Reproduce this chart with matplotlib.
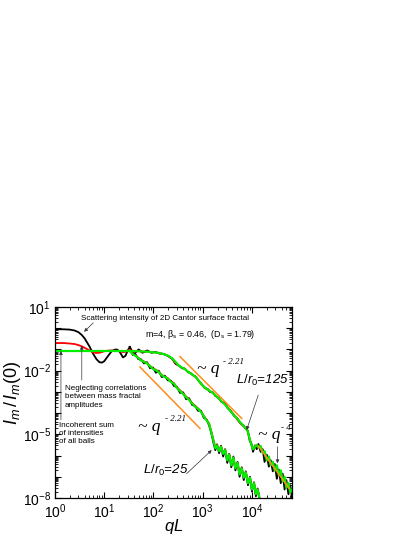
import math
import matplotlib
matplotlib.use("Agg")
import matplotlib.pyplot as plt
from matplotlib.ticker import LogLocator, FuncFormatter, NullFormatter

plt.rcParams['font.family'] = ['Liberation Sans', 'DejaVu Sans']
plt.rcParams['mathtext.fontset'] = 'custom'
plt.rcParams['mathtext.rm'] = 'Liberation Sans'
plt.rcParams['mathtext.it'] = 'Liberation Sans:italic'

# low-q part, common to both L/r0 values
q_low = [1, 1.5, 2, 2.5, 3, 3.5, 4, 5, 6, 7, 8, 9, 10, 12, 14, 16, 18, 20, 22, 24, 27, 30, 33]
black_low = [0.9, 0.89, 0.86, 0.78, 0.65, 0.48, 0.33, 0.14, 0.06, 0.034, 0.025, 0.024, 0.028,
             0.05, 0.08, 0.097, 0.1, 0.085, 0.06, 0.042, 0.05, 0.09, 0.13]
red_low = [0.2, 0.2, 0.19, 0.18, 0.16, 0.14, 0.12, 0.09, 0.072, 0.068, 0.07, 0.076, 0.082,
           0.088, 0.09, 0.088, 0.086, 0.084, 0.08, 0.074, 0.078, 0.09, 0.095]
green_low = [0.084, 0.084, 0.084, 0.084, 0.084, 0.084, 0.084, 0.084, 0.084, 0.084, 0.084, 0.084,
             0.084, 0.084, 0.084, 0.084, 0.084, 0.084, 0.084, 0.084, 0.084, 0.084, 0.084]

# L/r0 = 125
q_125 = [33, 40, 50, 60, 75, 90, 110, 130, 160, 200, 240, 280, 330, 380, 430, 500, 560, 640, 720,
         820, 950, 1100, 1250, 1400, 1600, 1800, 2100, 2400, 2800, 3200, 3700, 4300, 5000, 5800,
         6600, 7400, 8200, 9000, 9800, 10500, 11500, 12500, 13500, 15000, 16500, 18000, 20000,
         22000, 24000, 26500, 29000, 32000, 35000, 38500, 42000, 46000, 50000, 55000, 60000, 65000]
green_125 = [0.084, 0.083, 0.082, 0.08, 0.078, 0.075, 0.072, 0.068, 0.06, 0.05, 0.038, 0.026, 0.017,
             0.014, 0.012, 0.009, 0.0075, 0.0062, 0.005, 0.0035, 0.0022, 0.0016, 0.0013, 0.0011,
             0.0009, 0.0007, 0.0005, 0.00036, 0.00026, 0.00018, 0.00012, 8e-5, 5.5e-5, 3.6e-5,
             2.6e-5, 2.0e-5, 1.4e-5, 6e-6, 3e-6, 2e-6, 2.6e-6, 3.2e-6, 2.4e-6, 2.8e-6, 1.3e-6,
             1.6e-6, 6e-7, 9e-7, 3.5e-7, 5e-7, 2e-7, 3.5e-7, 1.2e-7, 2e-7, 6e-8, 1e-7, 3e-8, 5e-8,
             1.8e-8, 2.5e-8]
black_125 = [0.13, 0.06, 0.1, 0.07, 0.09, 0.07, 0.076, 0.065, 0.062, 0.048, 0.036, 0.021, 0.017,
             0.013, 0.0125, 0.0085, 0.0078, 0.006, 0.0052, 0.0034, 0.0023, 0.0015, 0.0014, 0.001,
             0.00095, 0.00065, 0.00052, 0.00034, 0.0003, 0.00017, 0.00013, 7.5e-5, 5.8e-5, 3.4e-5,
             2.7e-5, 1.9e-5, 1.5e-5, 5e-6, 3.5e-6, 1.5e-6, 3e-6, 2e-6, 3.5e-6, 1.5e-6, 2e-6,
             5e-7, 1.1e-6, 3e-7, 6e-7, 1.8e-7, 4e-7, 8e-8, 2.2e-7, 5e-8, 1.4e-7, 2.5e-8, 7e-8,
             1.5e-8, 4e-8, 1e-8]
red_125 = [0.095, 0.08, 0.084, 0.078, 0.08, 0.074, 0.073, 0.066, 0.061, 0.049, 0.036, 0.023, 0.017,
           0.0135, 0.0125, 0.0088, 0.0078, 0.006, 0.0052, 0.0034, 0.0023, 0.0016, 0.0013, 0.00105,
           0.00092, 0.0007, 0.00051, 0.00035, 0.00028, 0.00019, 0.00012, 8.5e-5, 5e-5, 3.3e-5,
           2.5e-5, 2e-5, 1.4e-5, 6e-6, 3e-6, 2e-6, 2.8e-6, 3e-6, 2.6e-6, 2.6e-6, 1.4e-6,
           1.5e-6, 6.5e-7, 8.5e-7, 3.8e-7, 4.8e-7, 2.1e-7, 3.2e-7, 1.3e-7, 1.9e-7, 6.5e-8, 9e-8,
           3.2e-8, 4.5e-8, 2e-8, 2.3e-8]

# L/r0 = 25
q_25 = [33, 38, 43, 49, 56, 64, 74, 85, 98, 112, 128, 147, 170, 195, 225, 260, 300, 345, 400, 460,
        530, 610, 700, 800, 920, 1050, 1200, 1350, 1500, 1650, 1800, 1950, 2150, 2350, 2600, 2850,
        3150, 3450, 3800, 4200, 4600, 5100, 5600, 6200, 6800, 7500, 8300, 9100, 10000, 11000,
        12000, 13000, 14500]
green_25 = [0.084, 0.06, 0.05, 0.04, 0.03, 0.026, 0.022, 0.016, 0.012, 0.0105, 0.0085, 0.006,
            0.005, 0.0042, 0.003, 0.0024, 0.0015, 0.0011, 0.0008, 0.00055, 0.00042, 0.00028, 0.0002,
            0.00016, 0.000115, 7e-5, 4.5e-5, 3e-5, 1.2e-5, 5e-6, 2.2e-6, 3e-6, 1.6e-6, 2.6e-6,
            1.2e-6, 1.8e-6, 6e-7, 1.1e-6, 3.5e-7, 8e-7, 2.5e-7, 4.5e-7, 1.3e-7, 2.5e-7, 9e-8,
            1.6e-7, 5e-8, 9e-8, 2.5e-8, 5e-8, 1.5e-8, 2.5e-8, 8e-9]
black_25 = [0.13, 0.055, 0.06, 0.035, 0.034, 0.022, 0.025, 0.013, 0.014, 0.008, 0.01, 0.005,
            0.0058, 0.0035, 0.0034, 0.0019, 0.0017, 0.0009, 0.00095, 0.00045, 0.0005, 0.00024,
            0.00022, 0.00013, 0.00013, 6e-5, 5e-5, 2.6e-5, 1.1e-5, 4e-6, 1.8e-6, 3.4e-6, 1.3e-6,
            2.9e-6, 9e-7, 2e-6, 4.5e-7, 1.2e-6, 2.8e-7, 9e-7, 2e-7, 5e-7, 1e-7, 2.8e-7, 7e-8,
            1.8e-7, 4e-8, 1e-7, 2e-8, 5.5e-8, 1.2e-8, 2.8e-8, 7e-9]
red_25 = [0.095, 0.062, 0.052, 0.041, 0.031, 0.027, 0.023, 0.017, 0.0125, 0.011, 0.009, 0.0062,
          0.0053, 0.0044, 0.0032, 0.0026, 0.0016, 0.0012, 0.00085, 0.0006, 0.00045, 0.0003,
          0.00022, 0.00017, 0.00012, 7.5e-5, 4.8e-5, 3.2e-5, 1.3e-5, 5.5e-6, 2.4e-6, 3.2e-6,
          1.7e-6, 2.7e-6, 1.3e-6, 1.9e-6, 6.5e-7, 1.15e-6, 3.8e-7, 8.2e-7, 2.6e-7, 4.6e-7,
          1.4e-7, 2.6e-7, 9.5e-8, 1.65e-7, 5.2e-8, 9.2e-8, 2.6e-8, 5.2e-8, 1.6e-8, 2.6e-8, 8.5e-9]

# power-law guide lines (end points)
guide_upper_q = [345, 6200]
guide_upper_I = [0.046, 5.6e-5]
guide_lower_q = [53, 880]
guide_lower_I = [0.015, 1.9e-5]
guide_q4_q = [13500, 57000]
guide_q4_I = [2.8e-6, 2.8e-8]

fig = plt.figure(figsize=(4.15, 5.37), dpi=100)
ax = fig.add_axes([55 / 415, 1 - 498 / 537, 237 / 415, 191 / 537])

BLACK, RED, GREEN, ORANGE = '#000000', '#ff0000', '#00ee00', '#ff8c1a'

for q, I in [(q_low, black_low), (q_125, black_125), (q_25, black_25)]:
    ax.plot(q, I, color=BLACK, lw=1.3)
for q, I in [(q_low, red_low), (q_125, red_125), (q_25, red_25)]:
    ax.plot(q, I, color=RED, lw=1.3)
for q, I in [(q_low, green_low), (q_125, green_125), (q_25, green_25)]:
    ax.plot(q, I, color=GREEN, lw=1.6)

for q, I in [(guide_upper_q, guide_upper_I), (guide_lower_q, guide_lower_I), (guide_q4_q, guide_q4_I)]:
    ax.plot(q, I, color=ORANGE, lw=1.1)

ax.set_xscale('log')
ax.set_yscale('log')
ax.set_xlim(1, 6.5e4)
ax.set_ylim(1e-8, 10)

ax.xaxis.set_major_locator(LogLocator(base=10, numticks=20))
ax.xaxis.set_minor_locator(LogLocator(base=10, subs=range(2, 10), numticks=20))
ax.yaxis.set_major_locator(LogLocator(base=10, numticks=20))
ax.yaxis.set_minor_locator(LogLocator(base=10, subs=range(2, 10), numticks=20))
ax.xaxis.set_minor_formatter(NullFormatter())
ax.yaxis.set_minor_formatter(NullFormatter())


def xfmt(v, pos):
    return r'$\mathregular{10^{%d}}$' % round(math.log10(v))


def yfmt(v, pos):
    e = round(math.log10(v))
    if e % 3 != 1:
        return ''
    return r'$\mathregular{10^{%d}}$' % e


ax.xaxis.set_major_formatter(FuncFormatter(xfmt))
ax.yaxis.set_major_formatter(FuncFormatter(yfmt))
ax.tick_params(which='both', direction='in', top=True, right=True, labelsize=10, pad=3)
ax.tick_params(which='major', length=4, width=0.8)
ax.tick_params(which='minor', length=2, width=0.6)
for s in ax.spines.values():
    s.set_linewidth(0.9)

ax.set_xlabel(r'$qL$', fontsize=12, labelpad=-3)
ax.set_ylabel(r'$I_m\,/\,I_m(0)$', fontsize=13)
ax.yaxis.set_label_coords(-0.135, 0.55)

small = 5.8
arr = dict(arrowstyle='-|>', lw=0.5, color='#333333', mutation_scale=5, shrinkA=0, shrinkB=0)
ax.text(3.4, 3.0, 'Scattering intensity of 2D Cantor surface fractal', fontsize=small, va='center')
ax.annotate('', xy=(3.9, 0.68), xytext=(6.0, 1.8), arrowprops=arr)
ax.text(68, 0.48, r'm=4, $\mathregular{\beta_s}$ = 0.46,  ($\mathregular{D_s}$ = 1.79)',
        fontsize=6.4, va='center')

ax.text(1.6, 2.1e-3, 'Neglecting correlations\nbetween mass fractal\namplitudes', fontsize=small,
        va='top', linespacing=1.25)
ax.annotate('', xy=(3.5, 0.15), xytext=(3.5, 3.6e-3), arrowprops=arr)
ax.text(1.2, 4.0e-5, 'Incoherent sum\nof intensities\nof all balls', fontsize=small,
        va='top', linespacing=1.25)
ax.annotate('', xy=(1.32, 0.084), xytext=(1.32, 4.8e-5), arrowprops=arr)

serif = ['Liberation Serif', 'DejaVu Serif']
ax.text(750, 0.012, '~ q', fontsize=12.5, style='italic', family=serif, va='center')
ax.text(2610, 0.026, '- 2.21', fontsize=6.5, style='italic', family=serif, va='center')
ax.text(49, 2.1e-5, '~ q', fontsize=12.5, style='italic', family=serif, va='center')
ax.text(175, 5e-5, '- 2.21', fontsize=6.5, style='italic', family=serif, va='center')
ax.text(13200, 9e-6, '~ q', fontsize=12.5, style='italic', family=serif, va='center')
ax.text(38000, 2.0e-5, '- 4', fontsize=6.5, style='italic', family=serif, va='center')
ax.annotate('', xy=(33000, 4.3e-7), xytext=(33000, 2.6e-6), arrowprops=arr)

ax.text(4730, 3.6e-3, r'$L/r_0$=125', fontsize=9.5, style='italic', va='center')
ax.annotate('', xy=(7800, 1.6e-5), xytext=(13400, 7e-4), arrowprops=arr)
ax.text(62, 2e-7, r'$L/r_0$=25', fontsize=9.5, style='italic', va='center')
ax.annotate('', xy=(1520, 1.8e-6), xytext=(470, 1.4e-7), arrowprops=arr)

fig.savefig('out.png', dpi=100)
